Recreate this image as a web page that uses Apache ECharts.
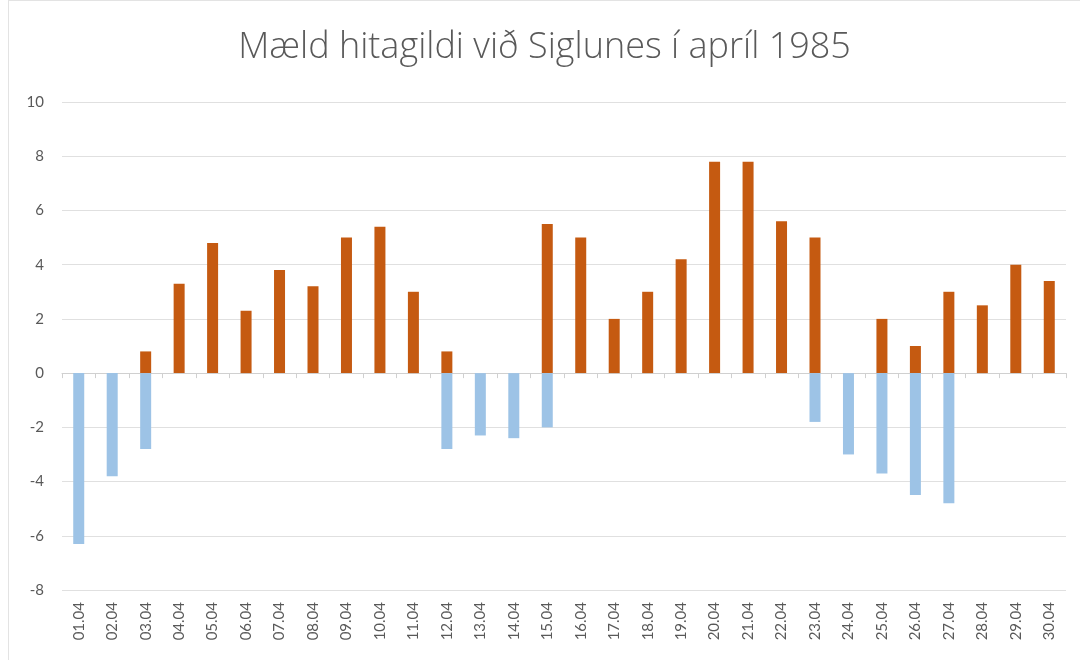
<!DOCTYPE html>
<html>
<head>
<meta charset="utf-8">
<script src="https://cdn.jsdelivr.net/npm/echarts@6/dist/echarts.min.js"></script>
<style>
  html, body { margin: 0; padding: 0; background: #fff; }
  #chart { height: 660px; box-sizing: border-box; border-left: 1px solid #e3e3e3; border-top: 1px solid #e3e3e3; margin-left: 8px; width: 1072px; }
</style>
</head>
<body>
<div id="chart"></div>
<script>
var days = ['01.04', '02.04', '03.04', '04.04', '05.04', '06.04', '07.04', '08.04', '09.04', '10.04',
    '11.04', '12.04', '13.04', '14.04', '15.04', '16.04', '17.04', '18.04', '19.04', '20.04',
    '21.04', '22.04', '23.04', '24.04', '25.04', '26.04', '27.04', '28.04', '29.04', '30.04'];

// hæsti hiti (appelsínugult)
var hamark = [null, null, 0.8, 3.3, 4.8, 2.3, 3.8, 3.2, 5.0, 5.4,
    3.0, 0.8, null, null, 5.5, 5.0, 2.0, 3.0, 4.2, 7.8,
    7.8, 5.6, 5.0, null, 2.0, 1.0, 3.0, 2.5, 4.0, 3.4];

// lægsti hiti (blátt)
var lagmark = [-6.3, -3.8, -2.8, null, null, null, null, null, null, null,
    null, -2.8, -2.3, -2.4, -2.0, null, null, null, null, null,
    null, null, -1.8, -3.0, -3.7, -4.5, -4.8, null, null, null];

var yTicks = { min: -8, max: 10, step: 2 };

var textColor = '#595959';
var myChart = echarts.init(document.getElementById('chart'));

var option = {
    animation: false,
    title: {
        text: 'Mæld hitagildi við Siglunes í apríl 1985',
        left: 'center',
        top: 24,
        textStyle: {
            fontFamily: 'Open Sans',
            fontWeight: 300,
            fontSize: 36,
            color: textColor
        }
    },
    grid: { left: 53, right: 14, top: 101, bottom: 70 },
    xAxis: [{
        type: 'category',
        data: days,
        axisLine: { show: false, onZero: false },
        axisTick: { show: false },
        axisLabel: {
            rotate: 90,
            interval: 0,
            margin: 12,
            fontFamily: 'Lato',
            fontSize: 15,
            color: textColor
        }
    }, {
        type: 'category',
        data: days,
        position: 'bottom',
        axisLine: { show: true, onZero: true, lineStyle: { color: '#d0d0d0', width: 1 } },
        axisTick: { show: true, interval: 0, length: 5, lineStyle: { color: '#d0d0d0' } },
        axisLabel: { show: false }
    }],
    yAxis: {
        type: 'value',
        min: yTicks.min,
        max: yTicks.max,
        interval: yTicks.step,
        axisLine: { show: false },
        axisTick: { show: false },
        axisLabel: {
            margin: 18,
            fontFamily: 'Lato',
            fontSize: 15,
            color: textColor
        },
        splitLine: { lineStyle: { color: '#e0e0e0', width: 1 } }
    },
    series: [{
        name: 'Hámark',
        type: 'bar',
        data: hamark,
        barWidth: 11,
        barGap: '-100%',
        itemStyle: { color: '#C55A11' }
    }, {
        name: 'Lágmark',
        type: 'bar',
        data: lagmark,
        barWidth: 11,
        barGap: '-100%',
        itemStyle: { color: '#9DC3E6' }
    }]
};

myChart.setOption(option);
</script>
</body>
</html>
